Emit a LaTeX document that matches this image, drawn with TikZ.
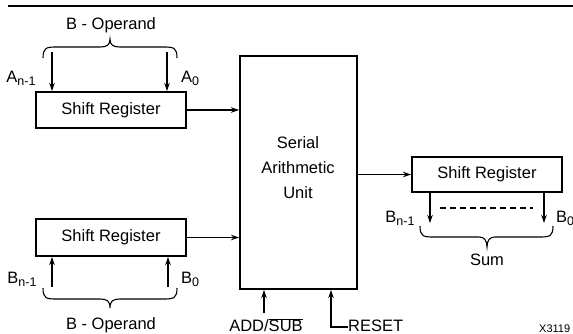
\documentclass[tikz,border=0pt]{standalone}
\usepackage{fontspec}
\setmainfont{Liberation Sans}
\usetikzlibrary{arrows.meta}
\begin{document}
\begin{tikzpicture}[x=1pt,y=-1pt,
  regbox/.style={draw,line width=2pt,inner sep=0pt,font=\fontsize{16.5}{19}\selectfont},
  conn/.style={line width=1.1pt},
  arr/.style={conn,-{Stealth[length=8pt,width=5.5pt]}},
  lbl/.style={font=\fontsize{16.5}{19}\selectfont,inner sep=0pt}]
\useasboundingbox (0,0) rectangle (573,334);
\draw[line width=1.1pt] (8,6) -- (573,6);
% registers
\node[regbox,minimum width=150pt,minimum height=36pt] (ra) at (111,110) {Shift Register};
\node[regbox,minimum width=150pt,minimum height=37pt] (rb) at (111,237.5) {Shift Register};
\node[regbox,minimum width=117pt,minimum height=233pt] (sau) at (298.5,172.5) {};
\node[lbl,align=center] (saut) at (298,168) {Serial\\[6pt]Arithmetic\\[6pt]Unit};
\node[regbox,minimum width=150pt,minimum height=35pt] (rs) at (487,174.5) {Shift Register};
% top operand
\node[lbl] (topop) at (111,25) {B - Operand};
\draw[conn] (43,58) .. controls (43,48) and (46,47) .. (56,47) -- (100,47) .. controls (107,47) and (110,45) .. (110,39)
  .. controls (110,45) and (113,47) .. (120,47) -- (164,47) .. controls (174,47) and (177,48) .. (177,58);
\coordinate (a1) at (52,52);
\coordinate (a0) at (167,52);
\draw[arr] (a1) -- (a1 |- ra.north);
\draw[arr] (a0) -- (a0 |- ra.north);
\node[lbl] (an) at (21,78) {A\raisebox{-3pt}{\fontsize{12.5}{13}\selectfont n-1}};
\node[lbl] (a0l) at (190,78) {A\raisebox{-3pt}{\fontsize{12.5}{13}\selectfont 0}};
% bottom operand
\coordinate (b1) at (52,287);
\coordinate (b0) at (168,287);
\draw[arr] (b1) -- (b1 |- rb.south);
\draw[arr] (b0) -- (b0 |- rb.south);
\node[lbl] (bn) at (22,279) {B\raisebox{-3pt}{\fontsize{12.5}{13}\selectfont n-1}};
\node[lbl] (b0l) at (190,279) {B\raisebox{-3pt}{\fontsize{12.5}{13}\selectfont 0}};
\draw[conn] (43,288) .. controls (43,298) and (46,299) .. (56,299) -- (100,299) .. controls (107,299) and (110,301) .. (110,308)
  .. controls (110,301) and (113,299) .. (120,299) -- (164,299) .. controls (174,299) and (177,298) .. (177,288);
\node[lbl] (botop) at (111,325) {B - Operand};
% into SAU
\draw[arr] (ra.east) -- (sau.west |- ra.east);
\draw[arr] (rb.east) -- (sau.west |- rb.east);
% out of SAU
\draw[arr] (sau.east |- rs.west) -- (rs.west);
% control inputs
\coordinate (addc) at (264,313);
\draw[arr] (addc) -- (addc |- sau.south);
\node[lbl] (add) at (266,325) {ADD/$\overline{\hbox{SUB}}$};
\coordinate (rstc) at (331,327);
\node[lbl,anchor=west] (rst) at (348,326) {RESET};
\draw[arr] (rst.west |- rstc) -- (rstc) -- (rstc |- sau.south);
% sum outputs
\coordinate (s1) at (430,223);
\coordinate (s0) at (544,223);
\draw[arr] (s1 |- rs.south) -- (s1);
\draw[arr] (s0 |- rs.south) -- (s0);
\draw[conn,dash pattern=on 6pt off 4pt] (440,208) -- (533,208);
\node[lbl] (sn) at (400,218) {B\raisebox{-3pt}{\fontsize{12.5}{13}\selectfont n-1}};
\node[lbl,anchor=west] (s0l) at (556,218) {B\raisebox{-3pt}{\fontsize{12.5}{13}\selectfont 0}};
\draw[conn] (420,226) .. controls (420,236) and (423,237) .. (433,237) -- (479,237) .. controls (484,237) and (487,240) .. (487,247)
  .. controls (487,240) and (490,237) .. (495,237) -- (540,237) .. controls (550,237) and (553,236) .. (553,226);
\node[lbl] (sum) at (487,260) {Sum};
\node[font=\fontsize{11}{12}\selectfont,inner sep=0pt,anchor=west] (x) at (539,329) {X3119};
\end{tikzpicture}
\end{document}
